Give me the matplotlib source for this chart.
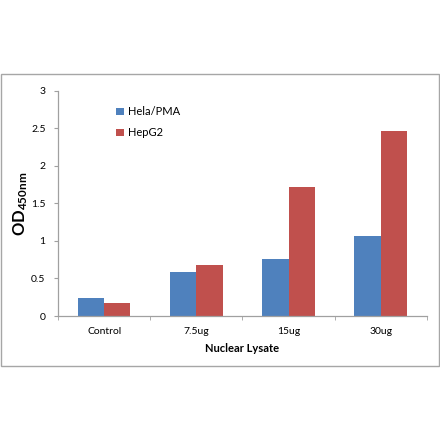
import matplotlib
matplotlib.use('Agg')

import matplotlib.pyplot as plt
from matplotlib.patches import Rectangle
import numpy as np

# data
categories = ["Control", "7.5ug", "15ug", "30ug"]
hela_pma = [0.24, 0.58, 0.76, 1.06]
hepg2 = [0.18, 0.68, 1.72, 2.46]
series_names = ["Hela/PMA", "HepG2"]
y_ticks = [0, 0.5, 1, 1.5, 2, 2.5, 3]
y_tick_labels = ["0", "0.5", "1", "1.5", "2", "2.5", "3"]

plt.rcParams['font.family'] = ['Lato', 'DejaVu Sans']
plt.rcParams['mathtext.fontset'] = 'custom'
plt.rcParams['mathtext.rm'] = 'Lato'
plt.rcParams['mathtext.bf'] = 'Lato:weight=bold'

fig = plt.figure(figsize=(4.40, 4.41), dpi=100)
fig.patch.set_facecolor('white')

# outer frame around the chart area
fig.patches.append(Rectangle((0.003, 0.170), 0.994, 0.662, transform=fig.transFigure,
                             fill=False, edgecolor='#a6a6a6', linewidth=1.0))

ax = fig.add_axes([0.132, 0.2834, 0.838, 0.5106])

x = np.arange(len(categories))
w = 0.285
ax.bar(x - w / 2, hela_pma, w, color='#4F81BD', label=series_names[0])
ax.bar(x + w / 2, hepg2, w, color='#C0504D', label=series_names[1])

ax.set_xlim(-0.5, len(categories) - 0.5)
ax.set_ylim(0, 3)
ax.set_yticks(y_ticks)
ax.set_yticklabels(y_tick_labels)
ax.set_xticks(x)
ax.set_xticklabels(categories)
ax.set_xticks(np.arange(len(categories) + 1) - 0.5, minor=True)

for s in ['top', 'right']:
    ax.spines[s].set_visible(False)
for s in ['left', 'bottom']:
    ax.spines[s].set_color('#a0a0a0')
    ax.spines[s].set_linewidth(0.9)

ax.tick_params(axis='x', which='major', length=0, labelsize=7.5, pad=8)
ax.tick_params(axis='x', which='minor', length=3, color='#a0a0a0', direction='out')
ax.tick_params(axis='y', length=3, color='#a0a0a0', labelsize=7.5, pad=6)

ax.set_xlabel("Nuclear Lysate", fontsize=8, fontweight='bold', labelpad=5)
ax.set_ylabel(r'$\mathbf{OD_{450nm}}$', fontsize=12)
ax.yaxis.set_label_coords(-0.075, 0.5)

ax.legend(loc='upper left', bbox_to_anchor=(0.13, 0.975), frameon=False, fontsize=8,
          handlelength=0.7, handleheight=0.7, labelspacing=0.9, handletextpad=0.4)

fig.savefig('out.png', dpi=100, facecolor='white')
